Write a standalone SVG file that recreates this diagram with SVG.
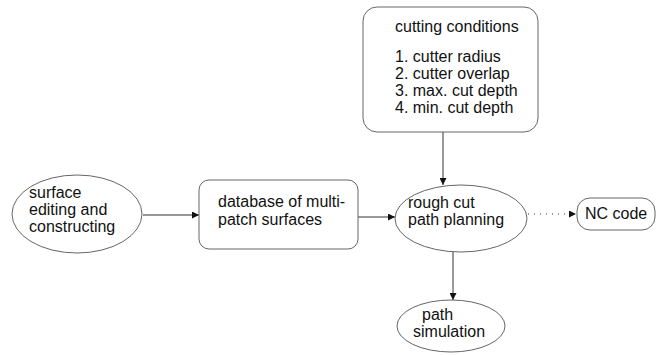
<svg xmlns="http://www.w3.org/2000/svg" width="657" height="355" viewBox="0 0 657 355">
<defs>
<marker id="ah" viewBox="0 0 10 10" refX="10" refY="5" markerWidth="9" markerHeight="7" markerUnits="userSpaceOnUse" orient="auto"><path d="M0,0 L10,5 L0,10 z" fill="#111"/></marker>
<style>
.n{fill:#fff;stroke:#666;stroke-width:1}
.t{font-family:"Liberation Sans",Arial,sans-serif;font-size:16px;fill:#111}
.c{stroke:#333;stroke-width:1;fill:none}
</style>
</defs>
<rect width="657" height="355" fill="#fff"/>
<g id="connectors">
<line class="c" x1="143" y1="215" x2="199" y2="215" marker-end="url(#ah)"/>
<line class="c" x1="358" y1="217" x2="395" y2="217" marker-end="url(#ah)"/>
<line class="c" x1="443" y1="132" x2="443" y2="185" marker-end="url(#ah)"/>
<line class="c" x1="453" y1="252" x2="453" y2="300" marker-end="url(#ah)"/>
<line class="c" x1="528" y1="214" x2="576" y2="214" stroke="#ddd" stroke-dasharray="1 5" marker-end="url(#ah)"/>
</g>
<g id="surface">
<ellipse class="n" cx="77" cy="214" rx="65" ry="39"/>
<text class="t" x="29" y="198">surface</text>
<text class="t" x="29" y="215">editing and</text>
<text class="t" x="29" y="232">constructing</text>
</g>
<g id="database">
<rect class="n" x="199" y="180" width="159" height="69" rx="10"/>
<text class="t" x="218" y="207">database of multi-</text>
<text class="t" x="218" y="225">patch surfaces</text>
</g>
<g id="cutting">
<rect class="n" x="363" y="7" width="175" height="125" rx="14"/>
<text class="t" x="395" y="32">cutting conditions</text>
<text class="t" x="395" y="62">1. cutter radius</text>
<text class="t" x="395" y="79">2. cutter overlap</text>
<text class="t" x="395" y="96">3. max. cut depth</text>
<text class="t" x="395" y="113">4. min. cut depth</text>
</g>
<g id="rough">
<ellipse class="n" cx="461" cy="218.5" rx="66" ry="33.5"/>
<text class="t" x="408" y="208">rough cut</text>
<text class="t" x="408" y="225">path planning</text>
</g>
<g id="sim">
<ellipse class="n" cx="451" cy="326" rx="54" ry="26"/>
<text class="t" x="422" y="320">path</text>
<text class="t" x="413" y="337">simulation</text>
</g>
<g id="nc">
<rect class="n" x="577" y="198" width="78" height="32" rx="13"/>
<text class="t" x="585" y="219">NC code</text>
</g>
</svg>
